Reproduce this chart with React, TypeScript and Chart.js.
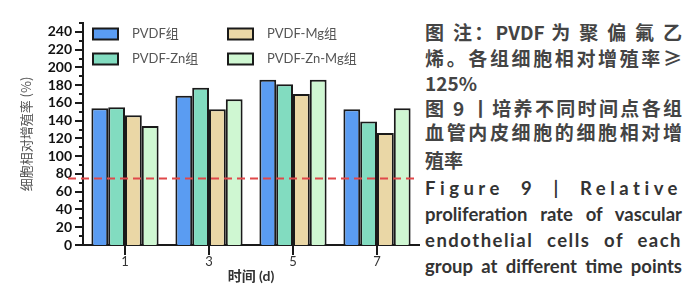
import React, { useEffect, useRef } from "react";
import { Chart, registerables } from "chart.js";

Chart.register(...registerables);

// ---- data ----
const categories = ["1", "3", "5", "7"];
const seriesLabels = ["PVDF组", "PVDF-Zn组", "PVDF-Mg组", "PVDF-Zn-Mg组"];
const pvdf = [154, 168, 186, 153];
const pvdfZn = [155, 177, 181, 139];
const pvdfMg = [146, 153, 170, 126];
const pvdfZnMg = [134, 164, 186, 154];
const seriesValues = [pvdf, pvdfZn, pvdfMg, pvdfZnMg];
const seriesColors = ["#5a9cf2", "#82dcc0", "#ead7a6", "#cff7d2"];
const threshold = 75;
const yMin = 0;
const yMax = 250;
const yLabelStep = 20;
const yMinorStep = 10;
const yAxisTitle = "细胞相对增殖率 (%)";
const xAxisTitle = "时间 (d)";

const captionLines = [
  { text: "图 注：PVDF 为 聚 偏 氟 乙", cy: 32, justify: true, cjk: true, ls: 0 },
  { text: "烯。各组细胞相对增殖率≥", cy: 58, justify: true, cjk: true, ls: 0 },
  { text: "125%", cy: 83, justify: false, cjk: true, ls: 0 },
  { text: "图 9 丨培养不同时间点各组", cy: 108, justify: true, cjk: true, ls: 0 },
  { text: "血管内皮细胞的细胞相对增", cy: 132, justify: true, cjk: true, ls: 0 },
  { text: "殖率", cy: 160, justify: false, cjk: true, ls: 0 },
  { text: "Figure 9 | Relative", cy: 188, justify: true, cjk: false, ls: 4.5 },
  { text: "proliferation rate of vascular", cy: 214, justify: true, cjk: false, ls: 0 },
  { text: "endothelial cells of each", cy: 240, justify: true, cjk: false, ls: 1.5 },
  { text: "group at different time points", cy: 266, justify: true, cjk: false, ls: 0 },
];

const AXIS_COLOR = "#1a1a1a";

const axisTicksPlugin = {
  id: "axisTicks",
  afterDraw(chart: any) {
    const { ctx } = chart;
    const y = chart.scales.y;
    const x = chart.scales.x;
    ctx.save();
    ctx.strokeStyle = AXIS_COLOR;
    ctx.lineWidth = 2;
    for (let v = yMin; v <= yMax; v += yMinorStep) {
      const py = Math.round(y.getPixelForValue(v));
      const len = v % yLabelStep === 0 ? 8 : 4;
      ctx.beginPath();
      ctx.moveTo(y.right - len, py);
      ctx.lineTo(y.right, py);
      ctx.stroke();
    }
    categories.forEach((_, i) => {
      const px = Math.round(x.getPixelForValue(i));
      ctx.beginPath();
      ctx.moveTo(px, x.top);
      ctx.lineTo(px, x.top + 10);
      ctx.stroke();
    });
    ctx.restore();
  },
};

const thresholdPlugin = {
  id: "thresholdLine",
  afterDatasetsDraw(chart: any) {
    const { ctx, chartArea } = chart;
    const y = chart.scales.y;
    const py = y.getPixelForValue(threshold);
    ctx.save();
    ctx.strokeStyle = "#e0484a";
    ctx.lineWidth = 2;
    ctx.setLineDash([8, 5]);
    ctx.beginPath();
    ctx.moveTo(chartArea.left - 15, py);
    ctx.lineTo(chartArea.right, py);
    ctx.stroke();
    ctx.restore();
  },
};

const legendPlugin = {
  id: "gridLegend",
  afterDraw(chart: any) {
    const { ctx } = chart;
    ctx.save();
    chart.data.datasets.forEach((ds: any, i: number) => {
      const col = Math.floor(i / 2);
      const row = i % 2;
      const bx = 93 + col * 135;
      const cy = 34 + row * 25;
      ctx.fillStyle = ds.backgroundColor;
      ctx.fillRect(bx, cy - 5.5, 25, 11);
      ctx.strokeStyle = AXIS_COLOR;
      ctx.lineWidth = 2;
      ctx.strokeRect(bx, cy - 5.5, 25, 11);
      ctx.fillStyle = "#555";
      ctx.font = "13px Lato, 'Noto Sans CJK SC', sans-serif";
      ctx.textBaseline = "middle";
      ctx.textAlign = "left";
      ctx.fillText(ds.label, bx + 39, cy);
    });
    ctx.restore();
  },
};

export default function App() {
  const canvasRef = useRef<HTMLCanvasElement | null>(null);

  useEffect(() => {
    document.body.style.margin = "0";
    const canvas = canvasRef.current;
    if (!canvas) return;
    Chart.defaults.font.family = "Lato, 'Noto Sans CJK SC', sans-serif";
    const chart = new Chart(canvas, {
      type: "bar",
      data: {
        labels: categories,
        datasets: seriesLabels.map((label, i) => ({
          label,
          data: seriesValues[i],
          backgroundColor: seriesColors[i],
          borderColor: AXIS_COLOR,
          borderWidth: 2,
          categoryPercentage: 0.8,
          barPercentage: 1.0,
        })),
      },
      options: {
        responsive: false,
        animation: false,
        layout: { padding: { left: 0, right: 1, top: 23, bottom: 0 } },
        plugins: {
          legend: { display: false },
          tooltip: { enabled: false },
        },
        scales: {
          x: {
            type: "category",
            offset: true,
            grid: { display: false, drawTicks: false },
            border: { display: true, color: AXIS_COLOR, width: 2 },
            ticks: { padding: 9, font: { size: 13 }, color: "#333" },
            title: {
              display: true,
              text: xAxisTitle,
              font: { size: 14, weight: "bold" },
              color: "#333",
              padding: { top: 0, bottom: 12 },
            },
            afterFit: (s: any) => {
              s.height = 52;
            },
          },
          y: {
            min: yMin,
            max: yMax,
            grid: { display: false, drawTicks: false },
            border: { display: true, color: AXIS_COLOR, width: 2 },
            ticks: {
              stepSize: yMinorStep,
              autoSkip: false,
              padding: 11,
              font: { size: 14, weight: "bold" },
              color: "#111",
              callback: (v: any) =>
                Number(v) % yLabelStep === 0 && Number(v) < yMax ? String(v) : "",
            },
            title: {
              display: true,
              text: yAxisTitle,
              font: { size: 13, family: "'Noto Sans CJK SC', sans-serif" },
              color: "#555",
              padding: { top: 18, bottom: 0 },
            },
            afterFit: (s: any) => {
              s.width = 83;
            },
          },
        },
      },
      plugins: [thresholdPlugin, axisTicksPlugin, legendPlugin],
    } as any);
    return () => chart.destroy();
  }, []);

  return (
    <div style={{ position: "relative", width: 700, height: 297, background: "#fff", overflow: "hidden" }}>
      <canvas ref={canvasRef} width={420} height={297} style={{ position: "absolute", left: 0, top: 0 }} />
      <div style={{ position: "absolute", left: 425, top: 0, width: 257 }}>
        {captionLines.map((l, i) => (
          <div
            key={i}
            style={{
              position: "absolute",
              left: 0,
              top: l.cy - 12,
              width: 257,
              height: 24,
              lineHeight: "24px",
              fontFamily: l.cjk ? "'Noto Sans CJK SC', sans-serif" : "Lato, sans-serif",
              fontWeight: "bold",
              fontSize: l.cjk ? 19 : 18.5,
              color: l.cjk ? "#444" : "#333",
              letterSpacing: l.ls,
              textAlign: l.justify ? "justify" : "left",
              textAlignLast: l.justify ? "justify" : "left",
            } as any}
          >
            {l.text}
          </div>
        ))}
      </div>
    </div>
  );
}
